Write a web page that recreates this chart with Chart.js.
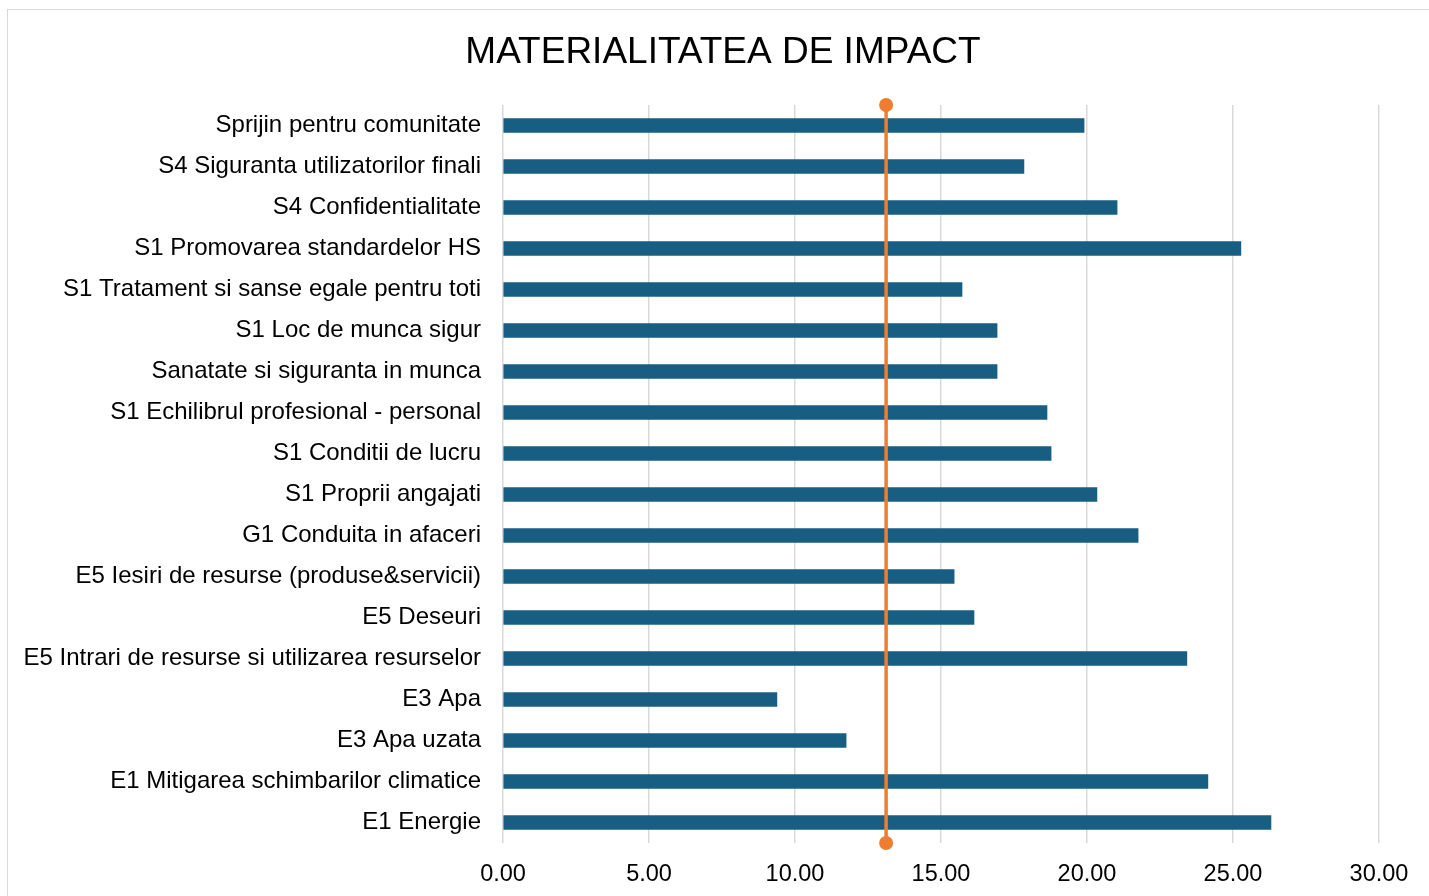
<!doctype html>
<html lang="ro">
  <head>
    <meta charset="utf-8">
    <title>Materialitatea de impact</title>
    <style>
      * { margin: 0; padding: 0; }
      body { background: #fff; width: 1429px; height: 896px; overflow: hidden; position: relative; }
      .frame {
        position: absolute; left: 7px; top: 9px; width: 1440px; height: 900px;
        border: 1.5px solid #d9d9d9; pointer-events: none;
      }
      .box { position: absolute; left: 0; top: 0; width: 1429px; height: 896px; }
    </style>
  </head>
  <body>
    <div class="box"><canvas id="myChart" width="1429" height="896"></canvas></div>
    <div class="frame"></div>
    <script src="https://cdn.jsdelivr.net/npm/chart.js"></script>
    <script>
    const categories = [
      'Sprijin pentru comunitate',
      'S4 Siguranta utilizatorilor finali',
      'S4 Confidentialitate',
      'S1 Promovarea standardelor HS',
      'S1 Tratament si sanse egale pentru toti',
      'S1 Loc de munca sigur',
      'Sanatate si siguranta in munca',
      'S1 Echilibrul profesional - personal',
      'S1 Conditii de lucru',
      'S1 Proprii angajati',
      'G1 Conduita in afaceri',
      'E5 Iesiri de resurse (produse&servicii)',
      'E5 Deseuri',
      'E5 Intrari de resurse si utilizarea resurselor',
      'E3 Apa',
      'E3 Apa uzata',
      'E1 Mitigarea schimbarilor climatice',
      'E1 Energie'
    ];
    const scores = [19.90, 17.84, 21.03, 25.27, 15.72, 16.92, 16.92, 18.63, 18.77,
                    20.34, 21.75, 15.45, 16.13, 23.42, 9.38, 11.75, 24.14, 26.30];
    const threshold = 13.12;
    const xTicks = [0, 5, 10, 15, 20, 25, 30];

    const font = 'Liberation Sans, Arial, sans-serif';

    // centre the title on the whole frame, not only the padded box
    const titleShift = {
      id: 'titleShift',
      afterLayout(chart) {
        if (chart.titleBlock) {
          chart.titleBlock.left = 0;
          chart.titleBlock.right = 1446;
        }
      }
    };

    const data = {
      labels: categories,
      datasets: [
        {
          type: 'bar',
          label: 'Scor',
          data: scores,
          backgroundColor: '#175e82',
          borderWidth: 0,
          barThickness: 14,
          grouped: false,
          xAxisID: 'x',
          yAxisID: 'y',
          order: 2
        },
        {
          type: 'line',
          label: 'Prag',
          data: [{ x: threshold, y: 0 }, { x: threshold, y: 1 }],
          borderColor: '#ed7d31',
          backgroundColor: '#ed7d31',
          borderWidth: 3.5,
          pointRadius: 7,
          pointHoverRadius: 7,
          pointBorderWidth: 0,
          xAxisID: 'x',
          yAxisID: 'y2',
          clip: false,
          order: 1
        }
      ]
    };

    const config = {
      data,
      plugins: [titleShift],
      options: {
        indexAxis: 'y',
        responsive: false,
        animation: false,
        layout: { padding: { left: 0, right: 50, top: 0, bottom: 0 } },
        plugins: {
          legend: { display: false },
          tooltip: { enabled: false },
          title: {
            display: true,
            text: 'MATERIALITATEA DE IMPACT',
            color: '#000',
            font: { family: font, size: 37, weight: 'normal' },
            padding: { top: 31, bottom: 29.6 }
          }
        },
        scales: {
          x: {
            type: 'linear',
            min: 0,
            max: 30,
            afterBuildTicks: (s) => { s.ticks = xTicks.map(v => ({ value: v })); },
            afterFit: (s) => { s.height = 53; },
            grid: { color: '#d9d9d9', lineWidth: 1.5, drawTicks: false },
            border: { display: false },
            ticks: {
              color: '#000',
              padding: 17,
              font: { family: font, size: 23.5 },
              callback: (v) => Number(v).toFixed(2)
            }
          },
          y: {
            type: 'category',
            afterFit: (s) => { s.width = 503; },
            grid: { display: false, drawTicks: false },
            border: { display: false },
            ticks: {
              color: '#000',
              padding: 22,
              font: { family: font, size: 24 }
            }
          },
          y2: {
            type: 'linear',
            axis: 'y',
            display: false,
            min: 0,
            max: 1
          }
        }
      }
    };

    const myChart = new Chart(document.getElementById('myChart'), config);
    </script>
  </body>
</html>
